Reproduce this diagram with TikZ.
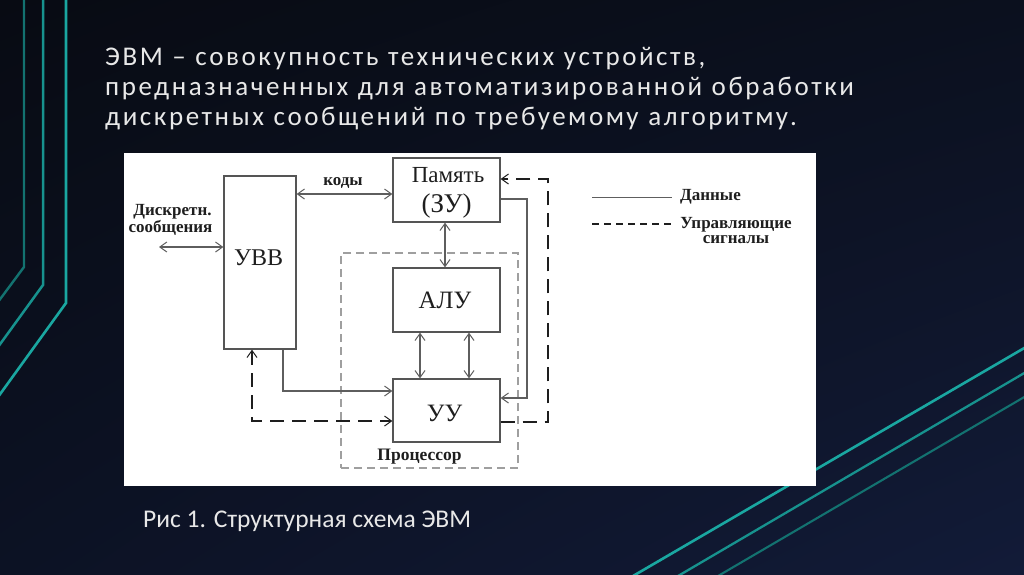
\documentclass[tikz,border=0pt]{standalone}
\usepackage{fontspec}
\setmainfont{Liberation Serif}
\newfontfamily\titlefont[LetterSpace=9.5,WordSpace=1.1]{Carlito}
\newfontfamily\capfont{Carlito}
\usetikzlibrary{arrows.meta,shadings}
\definecolor{bgA}{HTML}{080B13}
\definecolor{bgB}{HTML}{0B101E}
\definecolor{bgC}{HTML}{0C1224}
\definecolor{bgD}{HTML}{121B38}
\definecolor{tealA}{HTML}{1AA7A1}
\definecolor{tealB}{HTML}{17928E}
\definecolor{tealC}{HTML}{137270}
\definecolor{boxgray}{HTML}{555555}
\definecolor{linegray}{HTML}{5E5E5E}
\definecolor{inkc}{HTML}{1E1E1E}
\definecolor{titlec}{HTML}{E8E8E8}
\tikzset{
  box/.style={draw=boxgray, line width=1.3pt, fill=white, inner sep=0pt},
  data/.style={draw=linegray, line width=1.1pt},
  ctrl/.style={draw=inkc, line width=2.4pt, dash pattern=on 14pt off 8pt},
  procbox/.style={draw=gray!75, line width=1.2pt, dash pattern=on 8pt off 5pt, inner sep=0pt},
  lbl/.style={inner sep=0pt, text=inkc, font=\bfseries\fontsize{17}{19}\selectfont},
  boxlbl/.style={inner sep=0pt, text=inkc, anchor=base},
  tip/.style={>={Straight Barb[length=7pt,width=10pt,line width=1pt]}},
  ttl/.style={inner sep=0pt, anchor=base west, text=titlec, font=\titlefont\fontsize{27}{30}\selectfont},
}
\begin{document}
\begin{tikzpicture}[x=1pt,y=-1pt,tip]
\useasboundingbox (0,0) rectangle (1024,574);
% background
\shade[upper left=bgA, upper right=bgB, lower left=bgC, lower right=bgD] (0,0) rectangle (1024,574);
% teal lines left
\draw[tealC, line width=2.4pt] (24,-2) -- (24,267) -- (-2,302);
\draw[tealB, line width=2.5pt] (43,-2) -- (43,285) -- (-2,347);
\draw[tealA, line width=2.6pt] (66,-2) -- (66,303) -- (-2,397);
% teal lines right
\draw[tealA, line width=2.6pt] (633,576) -- (1026,347);
\draw[tealB, line width=2.3pt] (678,576) -- (1026,372);
\draw[tealC, line width=2.1pt] (718,576) -- (1026,396);
% title
\node[ttl] (t1) at (105,65) {ЭВМ – совокупность технических устройств,};
\node[ttl] (t2) at (105,95) {предназначенных для автоматизированной обработки};
\node[ttl] (t3) at (105,125) {дискретных сообщений по требуемому алгоритму.};
% panel
\fill[white] (124,153) rectangle (816,486);
% processor box
\node[procbox, minimum width=177pt, minimum height=215pt] (proc) at (429.5,360.5) {};
\node[lbl, anchor=base] (procl) at (419.5,460) {\fontsize{17.5}{19}\selectfont Процессор};
% blocks
\node[box, minimum width=72pt, minimum height=173pt] (uvv) at (260,262.5) {};
\node[boxlbl, font=\fontsize{24}{26}\selectfont] (uvvt) at (258.7,265.7) {УВВ};
\node[box, minimum width=107pt, minimum height=64pt] (mem) at (446.5,190) {};
\node[boxlbl, font=\fontsize{23}{26}\selectfont] (memt1) at (448,182) {Память};
\node[boxlbl, font=\fontsize{27}{30}\selectfont] (memt2) at (446.7,212) {(ЗУ)};
\node[box, minimum width=107pt, minimum height=64pt] (alu) at (446.5,300) {};
\node[boxlbl, font=\fontsize{25}{28}\selectfont] (alut) at (445,308) {АЛУ};
\node[box, minimum width=107pt, minimum height=63pt] (uu) at (446.5,410.5) {};
\node[boxlbl, font=\fontsize{25}{28}\selectfont] (uut) at (444.5,421) {УУ};
% labels
\node[lbl, anchor=base] (kody) at (343,185) {коды};
\node[lbl, anchor=base] (disc1) at (172.5,215) {Дискретн.};
\node[lbl, anchor=base] (disc2) at (170.5,232) {сообщения};
\coordinate (dsrc) at (159,247);
% data connectors
\draw[data,<->] (uvv.east |- 0,194) -- (mem.west |- 0,194);
\draw[data,<->] (dsrc) -- (uvv.west |- dsrc);
\draw[data,<->] (mem.south -| 445,0) -- (alu.north -| 445,0);
\draw[data,<->] (alu.south -| 420,0) -- (uu.north -| 420,0);
\draw[data,<->] (alu.south -| 469,0) -- (uu.north -| 469,0);
\draw[data,->] (uvv.south -| 283,0) |- (uu.west |- 0,391);
\draw[data,->] (mem.east |- 0,199) -- (527,199) -- (527,398) -- (uu.east |- 0,398);
% control connectors
\draw[ctrl,->] (uu.east |- 0,422) -- (548,422) -- (548,179) -- (mem.east |- 0,179);
\draw[ctrl,<->] (uvv.south -| 252,0) |- (uu.west |- 0,421);
% legend
\coordinate (ld1) at (592,197);
\coordinate (ld2) at (672,197);
\coordinate (lc1) at (592,224);
\coordinate (lc2) at (675,224);
\draw[data, line width=1pt] (ld1) -- (ld2);
\draw[draw=inkc, line width=2pt, dash pattern=on 7pt off 5pt] (lc1) -- (lc2);
\node[lbl, anchor=base west] (ldata) at (680,200) {Данные};
\node[lbl, anchor=base] (lctrl1) at (736,228) {Управляющие};
\node[lbl, anchor=base] (lctrl2) at (736,243) {сигналы};
% caption
\node[inner sep=0pt, anchor=base west, text=titlec, font=\capfont\fontsize{25.5}{28}\selectfont] (cap) at (143,527) {Рис 1. Структурная схема ЭВМ};
\end{tikzpicture}
\end{document}
